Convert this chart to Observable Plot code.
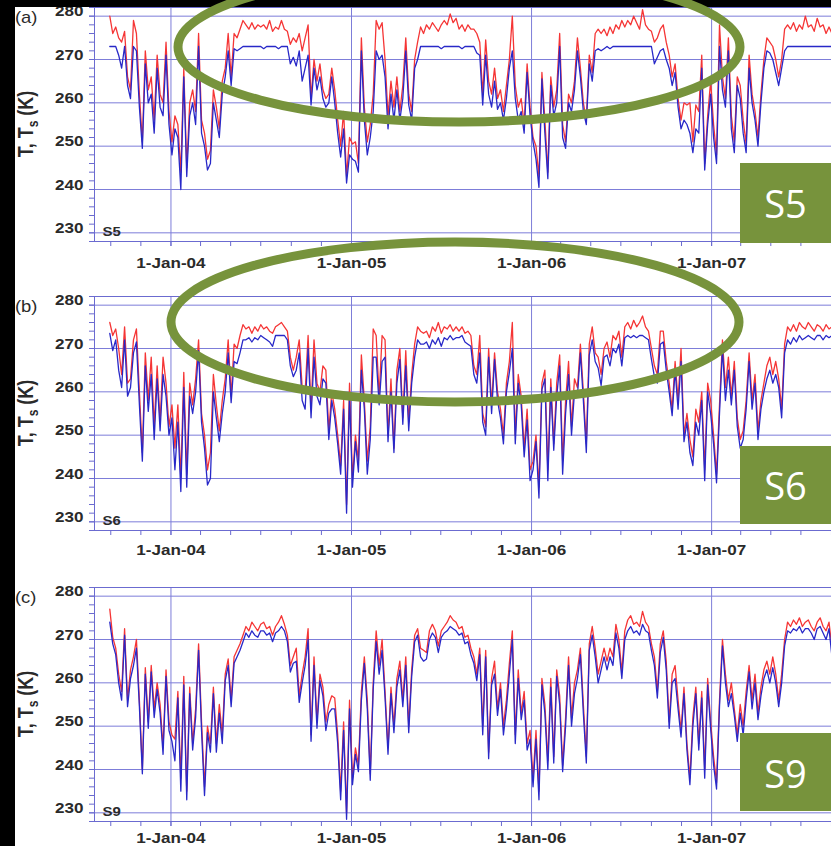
<!DOCTYPE html>
<html>
<head>
<meta charset="utf-8">
<title>T and Ts at S5, S6, S9</title>
<script src="https://cdn.jsdelivr.net/npm/d3@7"></script>
<script src="https://cdn.jsdelivr.net/npm/@observablehq/plot@0.6"></script>
<style>
  html, body { margin: 0; padding: 0; background: #fff; overflow: hidden; }
  #page { position: relative; width: 831px; height: 846px; overflow: hidden; background: #fff; }
  #page > svg { position: absolute; left: 0; max-width: none !important; }
  #overlay { top: 0; pointer-events: none; }
</style>
</head>
<body>
<div id="page"></div>
<script>
// Readings every 6 days, starting 30 Aug 2003.
const firstDay = "2003-08-30";
const stepDays = 6;

const stations = ["S5", "S6", "S9"];
const panelTags = ["(a)", "(b)", "(c)"];
const yTicks = [230, 240, 250, 260, 270, 280];
const yearTicks = ["2004-01-01", "2005-01-01", "2006-01-01", "2007-01-01"];
const yearLabels = ["1-Jan-04", "1-Jan-05", "1-Jan-06", "1-Jan-07"];

// Near-surface air temperature T (K)
const s5T = [
  280, 276, 277.5, 275, 274, 276.5, 266, 263, 279, 276,
  262, 251, 272, 263, 266, 256, 271, 262, 260, 274,
  258, 251, 257, 255, 244, 268, 245, 260, 263, 258,
  276, 256, 253, 247, 249, 263, 259, 254, 265, 268,
  276, 266, 276, 275, 277, 279, 278, 277, 278.5, 277,
  278, 277.5, 278, 277, 279, 276.5, 277.5, 277, 279, 277,
  276.5, 273.5, 275, 274, 276, 272, 275, 278, 261, 270,
  265, 269, 263, 261, 262, 268, 263, 256, 250, 258,
  243, 252, 250.5, 251, 246, 275, 259, 251, 255, 262,
  279, 277, 278.5, 270, 257, 265, 259, 266, 258, 264,
  275, 262, 258, 270, 274, 277.5, 276, 278, 277, 278.5,
  277.5, 276.5, 278, 279, 278, 280.5, 278.5, 279.5, 277, 278,
  276.5, 278, 277, 277, 276, 274, 262, 274.5, 265, 262,
  268, 261, 263, 258, 264, 270, 280, 264, 259, 261,
  255, 269, 259, 252, 250, 243, 267, 256, 244, 266,
  259, 263, 276, 255, 251, 262, 260, 265, 275, 268,
  260, 256, 271, 267, 276, 277, 276, 277, 275.5, 277.5,
  276, 278, 277, 279, 277.5, 279, 278, 280, 278.5, 277,
  281.5, 278, 277, 276.5, 274, 275, 277, 278, 274, 271,
  266, 269, 261, 256, 260, 259.5, 260, 251, 259.5, 258,
  271, 246, 257, 265, 255, 248, 278, 266, 261, 275,
  257, 251, 266, 264, 256, 250.5, 271, 262, 258, 252,
  262, 270, 275, 274, 273, 270, 266, 270, 277, 278,
  277, 278.5, 276.5, 278, 277, 280, 277.5, 278, 276.5, 279.5,
  277.5, 278, 276, 277.5, 276
];
// Surface temperature Ts (K)
const s5Ts = [
  273, 273, 273, 271, 268, 273, 264, 261, 273, 272,
  259, 249.5, 269, 260, 262, 253, 268, 259, 257, 271,
  255, 248, 254, 252, 240, 266, 243, 257, 260, 255,
  273, 253, 250, 244.5, 246, 260, 256, 252, 262, 266,
  272, 264, 272.5, 272, 272.5, 273, 273, 273, 273, 273,
  273, 273, 272.5, 273, 273, 273, 273, 272.5, 273, 273,
  273, 269, 270.5, 268.5, 272, 265, 268, 271, 259.5, 268,
  263, 266, 261, 259, 260, 266, 260, 253, 247.5, 254,
  241.5, 248, 247, 246.5, 244, 272, 256, 248, 252, 258,
  272, 270, 271, 266, 254, 262, 256, 263, 256, 261,
  272, 259.5, 256, 268, 270, 273, 273, 273, 273, 273,
  273, 273, 272.5, 273, 273, 273, 273, 273, 273, 272.5,
  273, 273, 273, 273, 271.5, 271, 259.5, 271, 262, 259,
  265, 258.5, 260, 256, 261, 268, 272, 261, 256, 258,
  253, 267, 257, 251, 247, 240.5, 265.5, 253, 242.5, 264,
  257, 260, 273, 252, 249.5, 260, 258, 263, 272, 266,
  258, 255, 269, 265, 272, 272.5, 272, 272.5, 273, 272.5,
  273, 273, 273, 273, 273, 273, 273, 273, 273, 273,
  273, 273, 273, 273, 269, 270.5, 272, 272.5, 270, 268,
  264, 267, 259, 254, 256, 255, 253, 248.5, 254, 253,
  268, 244.5, 255, 262, 252, 246, 273, 263, 259, 272,
  254, 248.5, 264, 261, 253, 248.5, 268, 260, 256, 250,
  260, 268, 272, 271.5, 270, 267, 264, 268, 272, 273,
  273, 273, 273, 273, 273, 273, 273, 273, 273, 273,
  273, 273, 273, 273, 273
];

const s6T = [
  276, 273, 274.5, 270, 264, 275, 262, 263, 272, 274.5,
  260, 246, 269, 258, 268, 252, 266, 253, 268, 262,
  252, 257, 247, 257, 240, 264.5, 241, 262, 257, 263,
  272, 255, 250, 242, 246, 264, 257, 251, 258, 263,
  272, 259, 271, 270, 273, 275.5, 274.5, 275, 273.5, 275,
  274, 275.5, 274.5, 275, 274, 273.5, 275, 275.5, 276, 275,
  274, 268, 265, 268, 272, 261, 260, 273, 256, 272,
  262, 260, 266, 265, 251, 260, 256, 250, 243, 258,
  234, 262, 240, 250, 244, 268.5, 258, 244, 252, 274.5,
  273, 259, 273, 272, 250, 263, 247, 265, 270, 254,
  269.5, 253, 264, 271, 275, 274, 273.5, 274, 272.5, 275,
  274, 276, 273.5, 275, 274.5, 275.5, 274, 275, 274, 275,
  273.5, 274, 273, 266, 264, 273, 255, 252, 270, 257,
  269, 260, 256, 250, 262, 267, 276, 250, 264, 259,
  247, 256, 242, 244, 250, 238, 262, 265, 242, 263,
  248, 262, 268.5, 244, 258, 267, 252, 263, 261, 271,
  260, 248, 271, 275, 269, 268, 264, 270, 271.5, 268,
  273, 272, 274, 268, 275, 276, 274.5, 276.5, 275, 276,
  277.5, 275, 274, 270, 266, 264, 274, 274, 267, 262,
  256, 267, 258, 270, 250, 255, 249, 245, 256, 253,
  260, 242, 262, 258, 250, 241, 257, 272, 261, 268,
  259, 267, 254, 249, 251, 258, 269, 258, 264, 251,
  258, 262, 266, 268, 264, 267, 263, 256, 271, 275,
  274, 275.5, 274, 276, 275, 274.5, 276, 275, 274, 275.5,
  275, 274, 275.5, 274.5, 275
];
const s6Ts = [
  273.5, 269.5, 272, 265, 261, 272, 259, 261, 269, 271.5,
  257, 244, 266, 255.5, 264, 249, 263, 251, 264, 259,
  250, 254, 242, 253, 237, 261, 238, 259, 255, 260,
  269.5, 253, 247, 238.5, 240, 260, 254, 248.5, 255, 260,
  269, 257.5, 267, 266.5, 269, 272, 272, 272.5, 271.5, 272.5,
  272, 273, 272.5, 272, 271.5, 270.5, 273, 273, 273, 273,
  272, 266, 263.5, 265, 269, 258, 256, 270, 254, 268,
  259, 257, 263, 262, 249, 258, 254, 248, 241, 256,
  232, 259, 238, 248.5, 241.5, 265, 256, 241, 249, 268,
  268, 257, 267, 268, 248.5, 260, 246, 262, 267.5, 252.5,
  266, 251, 262, 268, 272, 271, 271, 271.5, 270, 272,
  271, 272.5, 270.5, 272.5, 272, 273, 272, 272.5, 272.5, 273,
  271.5, 271, 270.5, 264, 262, 269, 253, 250, 268, 255,
  267.5, 258, 254, 248, 260, 264.5, 270, 248, 262, 257,
  245, 253.5, 239.5, 242, 248.5, 235.5, 260.5, 263, 239.5, 261,
  246.5, 259, 266, 241, 255, 264, 250, 260, 259, 269,
  258, 246, 268.5, 272, 267, 265.5, 261.5, 268, 268.5, 266,
  270, 269, 271, 266, 272.5, 273, 272.5, 273, 272.5, 273,
  273, 272.5, 272, 267.5, 263.5, 262, 271, 271.5, 265, 260,
  254.5, 265, 256, 267, 248.5, 253, 246, 243, 253, 250,
  258, 239.5, 260, 255, 248, 239, 255, 270, 258, 265,
  257, 265, 252, 247, 249, 256, 267, 256, 262, 249,
  256, 260, 263, 265, 262, 264, 261, 254, 269, 272,
  271, 272.5, 271.5, 273, 272, 272.5, 273, 272.5, 272, 273,
  273, 272, 273, 272.5, 273
];

const s9T = [
  277, 270.5, 268, 262, 258, 272.5, 256, 263, 266, 270,
  256, 240, 263.5, 251, 264, 254, 260, 255, 245, 263,
  251, 248, 247, 258, 238, 261.5, 235, 259, 246, 254,
  269, 251, 236, 250, 246, 259, 246, 255, 248, 262,
  265.5, 256, 266, 267.5, 269, 271, 273, 272, 274, 273,
  272, 273.5, 274, 272.5, 273, 271, 273, 274, 275.5, 273.5,
  271, 264, 266, 268, 257, 262, 266, 272.5, 248, 266,
  251, 262, 259, 251, 255, 257, 256.5, 248, 235, 251,
  230, 256, 238, 245, 241, 258, 266, 256, 239, 260,
  272, 264, 270, 258, 245, 259, 250, 261, 265, 256,
  266, 250, 263, 271, 272.5, 268, 267.5, 267, 272, 273.5,
  272, 268.5, 272, 273, 274, 275.5, 274.5, 274, 272.5, 273,
  270.5, 271, 268, 266, 262, 268, 250, 267.5, 244, 261,
  265, 254, 260, 250, 256, 264.5, 272, 248, 263, 253,
  258, 246, 249, 238, 249, 235, 261, 255, 242, 261,
  243, 263, 257, 241, 252, 266, 252, 260, 263, 268,
  255, 243, 269, 273, 268, 262, 265, 268, 265, 268,
  266, 273.5, 270, 262.5, 272, 274.5, 275.5, 273.5, 274, 273,
  276.5, 274, 273, 269, 266, 258, 269, 272, 265, 251,
  262, 264, 256, 249, 259, 246, 238, 252, 259, 246,
  258, 240, 261, 251, 243, 237, 256, 270, 262, 256,
  260, 254, 248, 255, 250, 258, 264, 256, 262, 253,
  259, 263, 265, 262, 266, 262, 256, 262, 270, 274,
  273, 274.5, 273.5, 275, 273, 274, 274.5, 273, 272, 274,
  275, 273, 272, 274, 268
];
const s9Ts = [
  274, 269, 266.5, 260, 256, 271, 254.5, 261, 264, 268,
  254.5, 239, 262, 249.5, 262.5, 252, 258.5, 253, 243.5, 261.5,
  249, 246.5, 242, 256.5, 235, 259.5, 233, 257.5, 244.5, 252,
  267.5, 249, 234, 248.5, 244, 257.5, 244, 253, 246, 260.5,
  264, 254.5, 264.5, 266, 267.5, 269.5, 271.5, 270.5, 272, 271,
  270.5, 272, 272, 271, 271.5, 269.5, 271.5, 272, 273, 272,
  269.5, 262.5, 264.5, 265, 255.5, 260, 264, 270, 246.5, 264,
  249.5, 260.5, 257, 249, 253, 254, 254, 246, 233, 249,
  228.5, 254, 236.5, 243.5, 239.5, 256, 264.5, 254, 237.5, 258.5,
  269.5, 262, 267.5, 256.5, 243.5, 257.5, 248.5, 259, 263, 254.5,
  264, 248.5, 261.5, 269.5, 271, 266, 265, 265.5, 270, 271.5,
  270.5, 267, 270.5, 271.5, 272, 273, 272.5, 272, 271, 271.5,
  269, 269.5, 266.5, 264.5, 260.5, 266.5, 248, 266, 242.5, 259.5,
  262, 252.5, 258.5, 248, 254, 262, 270, 246, 261, 251.5,
  256, 244.5, 247, 236, 247, 233, 259.5, 253, 240, 259,
  241.5, 261.5, 255, 239.5, 250, 264, 250, 257.5, 261, 266.5,
  253, 241.5, 267.5, 271, 266, 260, 263, 266, 263, 266,
  264, 271.5, 268, 261, 270, 272, 273, 271.5, 272, 271,
  273.5, 272, 271.5, 267.5, 264, 256.5, 267, 270.5, 263, 249.5,
  260, 261, 254, 247.5, 257.5, 244.5, 236.5, 250, 257.5, 244.5,
  256.5, 238, 259.5, 249.5, 241, 235.5, 254.5, 268.5, 260, 254.5,
  257.5, 252.5, 246.5, 253, 248, 256, 262.5, 254, 260, 251.5,
  257, 261, 263, 260, 263.5, 260, 254.5, 260, 268.5, 272,
  271.5, 272.5, 272, 273, 271.5, 272.5, 272.5, 271.5, 270, 272.5,
  273, 271.5, 270, 272.5, 266
];

const seriesT = [s5T, s6T, s9T];
const seriesTs = [s5Ts, s6Ts, s9Ts];

// ---- styling ----
const RED = "#f53535";
const BLUE = "#2828c8";
const GRID = "#7d7dd9";
const FRAME = "#6b6bd0";
const INK = "#2a2a2a";
const GREEN = "#77933c";
const FONT = "'Liberation Sans', Arial, sans-serif";

const DAY = 864e5;
const t0 = Date.parse(firstDay);
const xDomain = [new Date(Date.UTC(2003, 6, 30)), new Date(Date.UTC(2008, 3, 9))];
const years = yearTicks.map(d => new Date(d));
const months = d3.utcMonth.every(2).range(new Date(Date.UTC(2003, 8, 1)), new Date(Date.UTC(2008, 0, 2)));
const minorY = d3.range(228, 283, 2);

const page = document.getElementById("page");

// Stretch text horizontally about its anchor point.
function widen(svg, selector, k) {
  svg.querySelectorAll(selector).forEach(t => {
    let tr = t.getAttribute("transform") || "";
    if (t.hasAttribute("x") || t.hasAttribute("y")) {
      const x = +t.getAttribute("x") || 0, y = +t.getAttribute("y") || 0;
      t.removeAttribute("x"); t.removeAttribute("y");
      tr += ` translate(${x},${y})`;
    }
    t.setAttribute("transform", `${tr} scale(${k},1)`);
  });
}

function panel(k, top, labelPad) {
  const T = seriesT[k], Ts = seriesTs[k];
  const rows = T.map((v, i) => ({date: new Date(t0 + i * stepDays * DAY), T: v, Ts: Ts[i]}));
  const svg = Plot.plot({
    width: 940,
    height: 282,
    marginLeft: 94,
    marginRight: 0,
    marginTop: 8,
    marginBottom: 40,
    style: {background: "transparent", fontFamily: FONT, overflow: "visible", maxWidth: "none"},
    x: {type: "utc", domain: xDomain, label: null},
    y: {domain: [228, 282], label: null},
    marks: [
      Plot.gridY(yTicks, {stroke: GRID, strokeOpacity: 1, strokeWidth: 1}),
      Plot.gridX(years, {stroke: GRID, strokeOpacity: 1, strokeWidth: 1}),
      Plot.frame({stroke: FRAME, strokeWidth: 1}),
      Plot.axisY(minorY, {tickSize: 5, stroke: FRAME, tickFormat: () => ""}),
      Plot.axisY(yTicks, {
        tickSize: 5, tickPadding: 6, stroke: FRAME, fill: INK,
        fontSize: 14, fontWeight: "bold", tickFormat: d => String(d)
      }),
      Plot.axisX(months, {tickSize: 5, stroke: FRAME, tickFormat: () => ""}),
      Plot.axisX(years, {
        tickSize: 5, tickPadding: labelPad, stroke: FRAME, fill: INK,
        fontSize: 14, fontWeight: "bold",
        tickFormat: d => yearLabels[years.findIndex(y => +y === +d)]
      }),
      Plot.line(rows, {x: "date", y: "T", stroke: RED, strokeWidth: 1.3}),
      Plot.line(rows, {x: "date", y: "Ts", stroke: BLUE, strokeWidth: 1.3}),
      Plot.text([stations[k]], {
        text: d => d, frameAnchor: "bottom-left", textAnchor: "start", lineAnchor: "bottom",
        dx: 8, dy: -6, fontSize: 13, fontWeight: "bold", fill: INK
      })
    ]
  });
  widen(svg, 'g[aria-label="y-axis tick label"] text', 1.22);
  widen(svg, 'g[aria-label="x-axis tick label"] text', 1.22);
  widen(svg, 'g[aria-label="text"] text', 1.15);
  svg.style.top = top + "px";
  svg.style.maxWidth = "none";
  svg.setAttribute("width", 940);
  svg.setAttribute("height", 282);
  page.appendChild(svg);
}

const panelTops = [-1, 288, 579];
const labelPads = [21, 19, 16];
stations.forEach((s, k) => panel(k, panelTops[k], labelPads[k]));

// ---- titles, panel tags and annotation shapes ----
const ns = "http://www.w3.org/2000/svg";
const ov = d3.select(page).append("svg")
  .attr("id", "overlay")
  .attr("width", 831).attr("height", 846)
  .attr("xmlns", ns)
  .style("font-family", FONT);

panelTops.forEach((top, k) => {
  const mid = top + 8 + 117;
  const title = ov.append("text")
    .attr("transform", `translate(33,${mid}) rotate(-90) scale(1,1.2)`)
    .attr("text-anchor", "middle")
    .attr("font-size", 18).attr("font-weight", "bold").attr("fill", INK);
  title.append("tspan").text("T, T");
  title.append("tspan").attr("font-size", 12).attr("dy", 4).text("s");
  title.append("tspan").attr("dy", -4).text(" (K)");

  ov.append("text")
    .attr("transform", `translate(15,${top + 8 + 8.7 + 7}) scale(1.15,1)`)
    .attr("font-size", 16).attr("fill", INK)
    .text(panelTags[k]);
});

// dark border strips
ov.append("rect").attr("x", 0).attr("y", 0).attr("width", 15).attr("height", 846).attr("fill", "#000");
ov.append("rect").attr("x", 0).attr("y", 0).attr("width", 831).attr("height", 7).attr("fill", "#000");

// highlighted melt seasons
const rings = [
  {cx: 459, cy: 47, rx: 281, ry: 75},
  {cx: 455, cy: 322, rx: 284, ry: 80}
];
rings.forEach(r => ov.append("ellipse")
  .attr("cx", r.cx).attr("cy", r.cy).attr("rx", r.rx).attr("ry", r.ry)
  .attr("fill", "none").attr("stroke", GREEN).attr("stroke-width", 9));

// station badges
const badges = [
  {y0: 163, y1: 243, base: 218},
  {y0: 446, y1: 524, base: 500},
  {y0: 733, y1: 811, base: 788}
];
badges.forEach((b, k) => {
  ov.append("rect").attr("x", 740).attr("y", b.y0).attr("width", 100).attr("height", b.y1 - b.y0).attr("fill", GREEN);
  ov.append("text").attr("x", 785.5).attr("y", b.base)
    .attr("text-anchor", "middle").attr("fill", "#fff")
    .attr("font-family", "'Open Sans', Lato, sans-serif").attr("font-size", 38)
    .text(stations[k]);
});
</script>
</body>
</html>
